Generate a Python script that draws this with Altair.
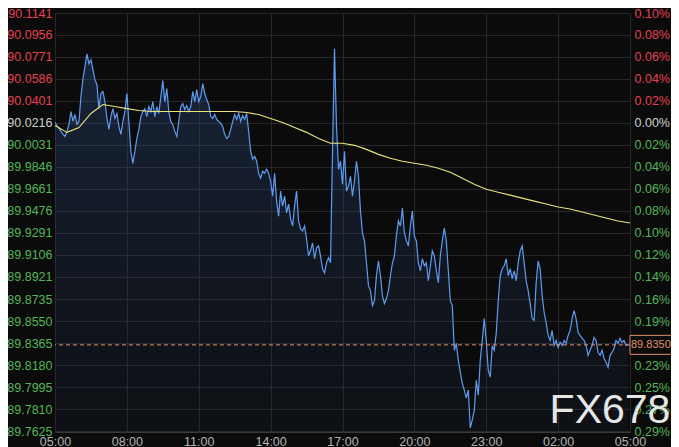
import altair as alt
import pandas as pd

# ---- data (5-minute closes, 05:00 -> 04:55) ----
PRICE = [
    90.0220, 90.0195, 90.0170, 90.0145, 90.0120, 90.0103, 90.0145, 90.0204, 90.0312, 90.0229, 90.0287, 90.0204,
    90.0229, 90.0438, 90.0589, 90.0689, 90.0798, 90.0714, 90.0748, 90.0664, 90.0580, 90.0538, 90.0337, 90.0463,
    90.0480, 90.0396, 90.0254, 90.0162, 90.0270, 90.0337, 90.0254, 90.0296, 90.0187, 90.0120, 90.0229, 90.0312,
    90.0463, 90.0229, 89.9978, 89.9877, 89.9978, 90.0086, 90.0162, 90.0270, 90.0312, 90.0337, 90.0270, 90.0354,
    90.0312, 90.0396, 90.0270, 90.0354, 90.0296, 90.0438, 90.0572, 90.0396, 90.0505, 90.0312, 90.0229, 90.0204,
    90.0145, 90.0103, 90.0229, 90.0354, 90.0379, 90.0329, 90.0363, 90.0312, 90.0354, 90.0480, 90.0396, 90.0496,
    90.0396, 90.0438, 90.0547, 90.0463, 90.0413, 90.0371, 90.0270, 90.0254, 90.0287, 90.0245, 90.0229, 90.0212,
    90.0187, 90.0120, 90.0086, 90.0103, 90.0162, 90.0229, 90.0287, 90.0245, 90.0296, 90.0229, 90.0279, 90.0245,
    90.0296, 90.0145, 89.9978, 89.9911, 89.9936, 89.9894, 89.9793, 89.9752, 89.9810, 89.9793, 89.9827, 89.9793,
    89.9726, 89.9601, 89.9793, 89.9559, 89.9433, 89.9643, 89.9517, 89.9601, 89.9459, 89.9534, 89.9408, 89.9350,
    89.9517, 89.9643, 89.9392, 89.9325, 89.9308, 89.9350, 89.9241, 89.9099, 89.9141, 89.9208, 89.9074, 89.9166,
    89.9182, 89.9099, 89.8990, 89.8956, 89.9040, 89.9082, 89.9040, 89.9978, 90.0840, 90.0187, 89.9827, 89.9894,
    89.9701, 89.9978, 89.9643, 89.9685, 89.9768, 89.9601, 89.9726, 89.9894, 89.9768, 89.9475, 89.9291, 89.9224,
    89.9040, 89.8848, 89.8806, 89.8680, 89.8722, 89.8931, 89.9057, 89.8931, 89.8764, 89.8697, 89.8739, 89.8806,
    89.8931, 89.9040, 89.9099, 89.9266, 89.9392, 89.9350, 89.9500, 89.9291, 89.9224, 89.9182, 89.9350, 89.9475,
    89.9266, 89.9224, 89.9040, 89.8973, 89.9074, 89.9015, 89.9040, 89.8889, 89.9015, 89.9141, 89.9099, 89.8973,
    89.8873, 89.9099, 89.9224, 89.9333, 89.9224, 89.8973, 89.8722, 89.8680, 89.8304, 89.8362, 89.8220, 89.8119,
    89.8027, 89.7969, 89.7902, 89.7969, 89.7651, 89.7718, 89.7801, 89.8052, 89.7927, 89.8220, 89.8387, 89.8571,
    89.8387, 89.8136, 89.8078, 89.8345, 89.8304, 89.8446, 89.8722, 89.8931, 89.8990, 89.9015, 89.9074, 89.8931,
    89.8990, 89.8906, 89.8973, 89.8889, 89.9040, 89.9141, 89.9182, 89.9040, 89.8889, 89.8806, 89.8697, 89.8571,
    89.8555, 89.8873, 89.9057, 89.8990, 89.8764, 89.8622, 89.8538, 89.8429, 89.8387, 89.8471, 89.8345, 89.8387,
    89.8329, 89.8371, 89.8345, 89.8387, 89.8362, 89.8429, 89.8471, 89.8571, 89.8638, 89.8571, 89.8454, 89.8429,
    89.8404, 89.8387, 89.8345, 89.8262, 89.8304, 89.8345, 89.8412, 89.8387, 89.8287, 89.8262, 89.8304, 89.8237,
    89.8203, 89.8161, 89.8262, 89.8287, 89.8320, 89.8387, 89.8362, 89.8404, 89.8371, 89.8387, 89.8345, 89.8350,
]

# moving average (yellow), every 30 minutes
MA = [
    90.0195, 90.0137, 90.0178, 90.0296, 90.0371, 90.0354, 90.0337, 90.0321, 90.0312, 90.0312,
    90.0312, 90.0312, 90.0312, 90.0312, 90.0312, 90.0312, 90.0304, 90.0287, 90.0254, 90.0220,
    90.0178, 90.0137, 90.0086, 90.0045, 90.0045, 90.0028, 89.9994, 89.9952, 89.9919, 89.9894,
    89.9877, 89.9860, 89.9835, 89.9802, 89.9752, 89.9701, 89.9659, 89.9634, 89.9609, 89.9584,
    89.9559, 89.9534, 89.9509, 89.9492, 89.9467, 89.9442, 89.9417, 89.9392, 89.9375,
]

Y_TICKS = [90.1141, 90.0956, 90.0771, 90.0586, 90.0401, 90.0216, 90.0031, 89.9846, 89.9661, 89.9476,
           89.9291, 89.9106, 89.8921, 89.8735, 89.8550, 89.8365, 89.8180, 89.7995, 89.7810, 89.7625]
X_TICKS = [0, 3, 6, 9, 12, 15, 18, 21, 24]   # hours after 05:00
BASE = 90.0216          # previous close (0.00%)
LAST = 89.8350
Y_MIN, Y_MAX = 89.7617, 90.1141
WATERMARK = "FX678"

# ---- styling ----
BG = "#0b0b0b"
GRID = "#272727"
RED = "#e5414f"
GREEN = "#55b559"
NEUTRAL = "#cfcfcf"
BLUE = "#5f9bf0"
YELLOW = "#e9e57a"
ORANGE = "#e0906a"
FONT = "Liberation Sans"
FS = 12.5

price_df = pd.DataFrame({"t": [i / 12 for i in range(len(PRICE))], "price": PRICE})
price_df["base"] = Y_MIN
ma_df = pd.DataFrame({"t": [k * 0.5 for k in range(len(MA))], "ma": MA})
last_df = pd.DataFrame({"p": [LAST], "label": [f"{LAST:.4f}"]})
wm_df = pd.DataFrame({"w": [WATERMARK]})

ysc = alt.Scale(domain=[Y_MIN, Y_MAX], zero=False, nice=False)
xsc = alt.Scale(domain=[0, 24], zero=False, nice=False)

color_cond = {
    "condition": [
        {"test": f"datum.value > {BASE + 0.00005}", "value": RED},
        {"test": f"datum.value < {BASE - 0.00005}", "value": GREEN},
    ],
    "value": NEUTRAL,
}

x_axis = alt.Axis(
    values=X_TICKS,
    labelExpr="(((datum.value + 5) % 24) < 10 ? '0' : '') + ((datum.value + 5) % 24) + ':00'",
    title=None, grid=True, gridColor=GRID, domain=False, ticks=False,
    labelColor="#b4b4b4", labelFont=FONT, labelFontSize=FS, labelPadding=3,
    labelFlush=False, labelOverlap=False, labelBound=False,
)
x_enc = alt.X("t:Q", scale=xsc, axis=x_axis)

left_axis = alt.Axis(
    values=Y_TICKS, format=".4f", title=None, grid=True, gridColor=GRID,
    domain=False, ticks=False, labelPadding=3, labelColor=color_cond,
    labelFont=FONT, labelFontSize=FS, labelOverlap=False,
)
right_axis = alt.Axis(
    orient="right", values=Y_TICKS, title=None, grid=False,
    labelExpr=f"format(abs(datum.value - {BASE}) / {BASE} * 100, '.2f') + '%'",
    domain=False, ticks=False, labelPadding=4, labelColor=color_cond,
    labelFont=FONT, labelFontSize=FS, labelOverlap=False,
)

grad = alt.Gradient(
    gradient="linear",
    stops=[
        alt.GradientStop(color="rgba(50,85,145,0.36)", offset=0),
        alt.GradientStop(color="rgba(30,45,75,0.14)", offset=1),
    ],
    x1=1, x2=1, y1=0, y2=1,
)

area = alt.Chart(price_df).mark_area(color=grad).encode(
    x=x_enc,
    y=alt.Y("price:Q", scale=ysc, axis=left_axis),
    y2="base:Q",
)
line = alt.Chart(price_df).mark_line(color=BLUE, strokeWidth=1.2).encode(
    x=alt.X("t:Q", scale=xsc), y=alt.Y("price:Q", scale=ysc, axis=None)
)
ma = alt.Chart(ma_df).mark_line(color=YELLOW, strokeWidth=1.1).encode(
    x=alt.X("t:Q", scale=xsc), y=alt.Y("ma:Q", scale=ysc, axis=right_axis)
)
rule = alt.Chart(last_df).mark_rule(color=ORANGE, strokeDash=[4, 3], strokeWidth=1).encode(
    y=alt.Y("p:Q", scale=ysc, axis=None)
)
box = alt.Chart(last_df).mark_point(
    shape="M -1 -0.38 L 1 -0.38 L 1 0.38 L -1 0.38 Z", size=2500, filled=True,
    fill=BG, stroke=ORANGE, strokeWidth=1, opacity=1, fillOpacity=1, strokeOpacity=1,
).encode(x=alt.value(600), y=alt.Y("p:Q", scale=ysc, axis=None))
box_text = alt.Chart(last_df).mark_text(
    align="left", baseline="middle", color=ORANGE, font=FONT, fontSize=11
).encode(x=alt.value(576), y=alt.Y("p:Q", scale=ysc, axis=None), text="label:N")
wm = alt.Chart(wm_df).mark_text(
    align="center", baseline="middle", color="#e6e6e6", font=FONT, fontSize=41
).encode(x=alt.value(555), y=alt.value(398), text="w:N")

chart = (
    alt.layer(area, line, ma, rule, box, box_text, wm)
    .resolve_scale(y="independent")
    .properties(
        width=575, height=419,
        autosize=alt.AutoSizeParams(type="none"),
        padding={"left": 47, "top": 5, "right": 41, "bottom": 15},
        background=BG,
    )
    .configure_view(stroke="#3a3a3a", strokeWidth=1)
)

chart.save("out.html", embed_options={"renderer": "svg", "actions": False})
